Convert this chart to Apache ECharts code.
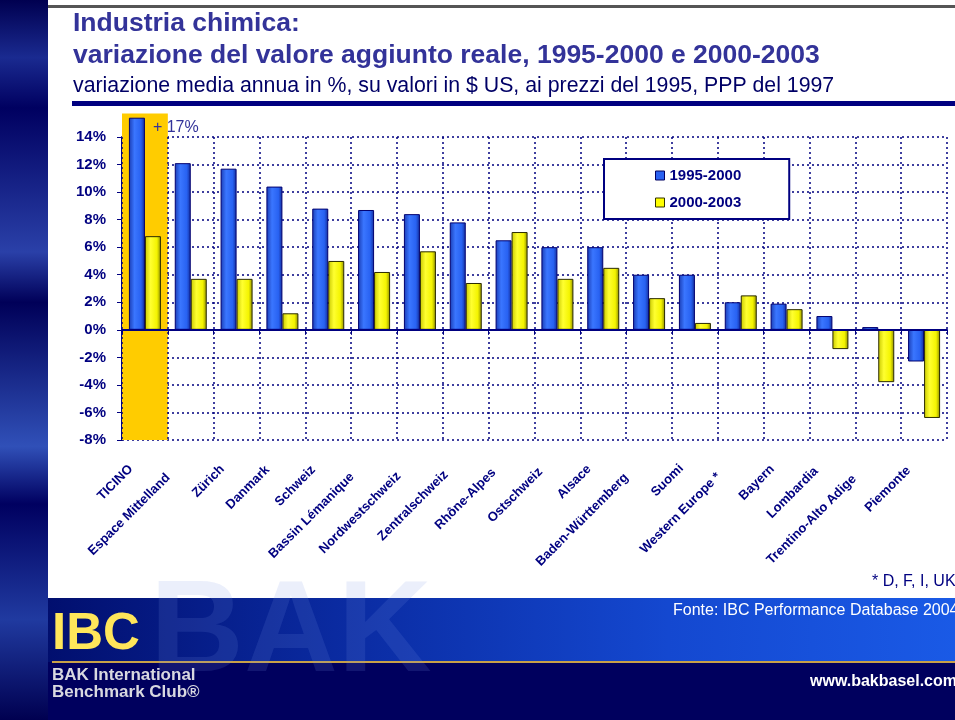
<!DOCTYPE html>
<html>
<head>
<meta charset="utf-8">
<title>Industria chimica</title>
<script src="https://cdn.jsdelivr.net/npm/echarts@6/dist/echarts.min.js"></script>
<style>
  html, body { margin: 0; padding: 0; background: #fff; }
  #chart { width: 955px; height: 720px; }
</style>
</head>
<body>
<div id="chart"></div>
<script>
  var regions = ['TICINO', 'Espace Mittelland', 'Zürich', 'Danmark', 'Schweiz', 'Bassin Lémanique',
    'Nordwestschweiz', 'Zentralschweiz', 'Rhône-Alpes', 'Ostschweiz', 'Alsace', 'Baden-Württemberg',
    'Suomi', 'Western Europe *', 'Bayern', 'Lombardia', 'Trentino-Alto Adige', 'Piemonte']
  // TICINO is drawn cut off; the real value is given by the label
  var growth9500 = [15.4, 12.1, 11.7, 10.4, 8.8, 8.7, 8.4, 7.8, 6.5, 6.0, 6.0, 4.0, 4.0, 2.0, 1.9, 1.0, 0.2, -2.3]
  var growth0003 = [6.8, 3.7, 3.7, 1.2, 5.0, 4.2, 5.7, 3.4, 7.1, 3.7, 4.5, 2.3, 0.5, 2.5, 1.5, -1.4, -3.8, -6.4]
  var ticinoActual = 17
  var highlightCategory = 'TICINO'
  var highlightRange = [-8, 15.7]
  var yTicks = [-8, -6, -4, -2, 0, 2, 4, 6, 8, 10, 12, 14]

  var navy = '#000080'
  var font = 'Liberation Sans, Arial, sans-serif'

  var blueFill = new echarts.graphic.LinearGradient(0, 0, 1, 0, [
    {offset: 0, color: '#1a3cb4'}, {offset: 0.35, color: '#3a76ff'},
    {offset: 0.75, color: '#2862f2'}, {offset: 1, color: '#132c98'}
  ])
  var yellowFill = new echarts.graphic.LinearGradient(0, 0, 1, 0, [
    {offset: 0, color: '#c8c800'}, {offset: 0.35, color: '#ffff30'},
    {offset: 0.75, color: '#f4f400'}, {offset: 1, color: '#8c8c00'}
  ])
  var stripFill = new echarts.graphic.LinearGradient(0, 0, 0, 1, [
    {offset: 0, color: '#000050'}, {offset: 0.08, color: '#1a2a90'}, {offset: 0.15, color: '#000060'},
    {offset: 0.35, color: '#2a40a8'}, {offset: 0.42, color: '#000058'}, {offset: 0.62, color: '#3050b8'},
    {offset: 0.7, color: '#000060'}, {offset: 0.86, color: '#203aa0'}, {offset: 1, color: '#000050'}
  ])
  var bannerFill = new echarts.graphic.LinearGradient(0, 0, 1, 0, [
    {offset: 0, color: '#000a66'}, {offset: 0.35, color: '#0a2aa0'},
    {offset: 0.7, color: '#1448d0'}, {offset: 1, color: '#1a5ae6'}
  ])

  // longer names sit a little further down-left, as in the slide
  var labelItems = regions.map(function (name) {
    return {value: name, textStyle: {padding: [0, Math.round(13 + name.length * 1.1), 0, 0]}}
  })

  var chart = echarts.init(document.getElementById('chart'))

  chart.setOption({
    backgroundColor: '#fff',
    animation: false,
    textStyle: {fontFamily: font},
    title: [
      {text: 'Industria chimica:', left: 73, top: 10, padding: 0,
        textStyle: {color: '#333399', fontSize: 26.5, fontWeight: 'bold', fontFamily: font}},
      {text: 'variazione del valore aggiunto reale, 1995-2000 e 2000-2003', left: 73, top: 42, padding: 0,
        textStyle: {color: '#333399', fontSize: 26.5, fontWeight: 'bold', fontFamily: font}},
      {text: 'variazione media annua in %, su valori in $ US, ai prezzi del 1995, PPP del 1997', left: 73, top: 76, padding: 0,
        textStyle: {color: '#000066', fontSize: 21.3, fontWeight: 'normal', fontFamily: font}}
    ],
    graphic: [
      {type: 'rect', left: 0, top: 0, z: 10, shape: {width: 48, height: 720}, style: {fill: stripFill}},
      {type: 'rect', left: 48, top: 5, shape: {width: 907, height: 3}, style: {fill: '#555'}},
      {type: 'rect', left: 72, top: 101, shape: {width: 883, height: 5}, style: {fill: '#000080'}},
      {type: 'rect', left: 0, top: 598, z: 5, shape: {width: 955, height: 64}, style: {fill: bannerFill}},
      {type: 'rect', left: 0, top: 662, z: 5, shape: {width: 955, height: 58}, style: {fill: '#00005e'}},
      {type: 'rect', left: 52, top: 661, z: 6, shape: {width: 903, height: 2}, style: {fill: '#c8a048'}},
      {type: 'text', left: 150, top: 570, z: 6, style: {text: 'BAK', fill: 'rgba(120,150,230,0.15)',
        font: 'bold 130px ' + font}},
      {type: 'text', left: 52, top: 609, z: 7, style: {text: 'IBC', fill: '#ffe65a',
        font: 'bold 51px ' + font}},
      {type: 'text', left: 52, top: 667, z: 7, style: {text: 'BAK International\nBenchmark Club®', fill: '#d8d8e0',
        font: 'bold 17px ' + font, lineHeight: 17}},
      {type: 'text', left: 673, top: 603, z: 7, style: {text: 'Fonte: IBC Performance Database 2004', fill: '#fff',
        font: '16px ' + font}},
      {type: 'text', left: 810, top: 674, z: 7, style: {text: 'www.bakbasel.com', fill: '#fff',
        font: 'bold 16px ' + font}},
      {type: 'text', left: 872, top: 574, style: {text: '* D, F, I, UK', fill: '#000080',
        font: '16px ' + font}}
    ],
    legend: {
      orient: 'vertical',
      left: 604,
      top: 159,
      padding: [9, 48, 9, 51],
      itemGap: 12,
      itemWidth: 9,
      itemHeight: 9,
      icon: 'rect',
      backgroundColor: '#fff',
      borderColor: navy,
      borderWidth: 2,
      textStyle: {color: navy, fontSize: 15, fontWeight: 'bold', fontFamily: font},
      data: [
        {name: '1995-2000', itemStyle: {color: '#2a62f2', borderColor: '#000060', borderWidth: 1}},
        {name: '2000-2003', itemStyle: {color: '#ffff00', borderColor: '#333300', borderWidth: 1}}
      ]
    },
    grid: {left: 122, right: 8, top: 137, bottom: 280},
    xAxis: [
      {
        type: 'category',
        data: regions,
        position: 'bottom',
        z: 3,
        axisLine: {onZero: true, lineStyle: {color: navy, width: 2}},
        axisTick: {show: true, interval: 0, length: 5, lineStyle: {color: navy, width: 1}},
        axisLabel: {show: false},
        splitLine: {show: true, interval: 0, lineStyle: {color: navy, type: [2, 3], width: 1.5}}
      },
      {
        type: 'category',
        data: labelItems,
        position: 'bottom',
        axisLine: {show: false, onZero: false},
        axisTick: {show: false},
        splitLine: {show: false},
        axisLabel: {
          interval: 0,
          rotate: 45,
          margin: 13,
          color: navy,
          fontSize: 13,
          fontWeight: 'bold',
          fontFamily: font
        }
      }
    ],
    yAxis: {
      type: 'value',
      min: yTicks[0],
      max: yTicks[yTicks.length - 1],
      interval: 2,
      axisLine: {show: true, lineStyle: {color: navy, width: 2}},
      axisTick: {show: true, length: 5, lineStyle: {color: navy}},
      axisLabel: {
        color: navy, fontSize: 15, fontWeight: 'bold', fontFamily: font, margin: 16,
        formatter: function (v) { return v + '%' }
      },
      splitLine: {show: true, lineStyle: {color: navy, type: [2, 3], width: 1.5}}
    },
    series: [
      {
        name: 'highlight',
        type: 'custom',
        z: 1,
        silent: true,
        encode: {x: 0, y: [1, 2]},
        data: [[highlightCategory, highlightRange[0], highlightRange[1]]],
        renderItem: function (params, api) {
          var lo = api.coord([api.value(0), api.value(1)])
          var hi = api.coord([api.value(0), api.value(2)])
          var w = api.size([1, 0])[0]
          return {
            type: 'rect',
            shape: {x: lo[0] - w / 2, y: hi[1], width: w, height: lo[1] - hi[1]},
            style: {fill: '#ffcc00'}
          }
        }
      },
      {
        name: '1995-2000',
        type: 'bar',
        z: 2,
        clip: false,
        barWidth: 16,
        barGap: '0%',
        itemStyle: {color: blueFill, borderColor: '#000070', borderWidth: 1},
        label: {
          show: true,
          position: [24, 2],
          color: '#333399',
          fontSize: 16,
          fontFamily: font,
          formatter: function (p) { return p.dataIndex === 0 ? '+ ' + ticinoActual + '%' : '' }
        },
        data: growth9500
      },
      {
        name: '2000-2003',
        type: 'bar',
        z: 2,
        clip: false,
        barWidth: 16,
        barGap: '0%',
        itemStyle: {color: yellowFill, borderColor: '#2a2a00', borderWidth: 1},
        data: growth0003
      }
    ]
  })
</script>
</body>
</html>
